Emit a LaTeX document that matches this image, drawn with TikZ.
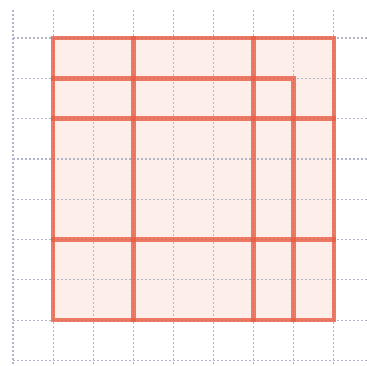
\documentclass[tikz,border=0pt]{standalone}
\definecolor{gridc}{RGB}{178,182,202}
\definecolor{redl}{RGB}{232,92,66}
\definecolor{pinkf}{RGB}{253,238,233}
\begin{document}
\begin{tikzpicture}[x=1pt,y=-1pt,
  gridline/.style={gridc, line width=1.2pt, dash pattern=on 2pt off 2pt},
  redline/.style={redl, line width=4.5pt, draw opacity=0.8, line cap=rect}]
\useasboundingbox[fill=white] (0,0) rectangle (367,365);
\fill[pinkf] (53.1,38) rectangle (333.8,320.1);
% grid
\foreach \i in {0,...,8}{
  \draw[gridline] ({13+40.1*\i},10) -- ({13+40.1*\i},365);
}
\foreach \j in {0,...,8}{
  \draw[gridline] (13,{38+40.3*\j}) -- (367,{38+40.3*\j});
}
% red structure
\draw[redline] (53.1,38) rectangle (333.8,320.1);
\draw[redline] (133.3,38) -- (133.3,320.1);
\draw[redline] (253.6,38) -- (253.6,320.1);
\draw[redline] (53.1,78.3) -- (293.7,78.3) -- (293.7,320.1);
\draw[redline] (53.1,118.6) -- (333.8,118.6);
\draw[redline] (53.1,239.5) -- (333.8,239.5);
\end{tikzpicture}
\end{document}
